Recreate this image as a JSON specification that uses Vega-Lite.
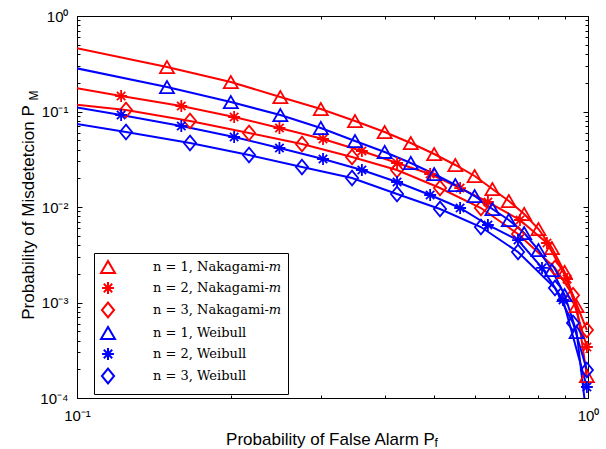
{
  "$schema": "https://vega.github.io/schema/vega-lite/v6.json",
  "width": 511,
  "height": 382,
  "autosize": {"type": "none"},
  "padding": {"left": 77, "top": 16, "right": 18, "bottom": 51},
  "background": "white",
  "config": {
    "view": {"stroke": "black", "strokeWidth": 1},
    "axis": {"grid": false, "domain": false, "tickColor": "black", "tickWidth": 1}
  },
  "data": {
    "values": [
      {"series": "n = 1, Nakagami-𝑚", "pf": 0.1, "pm": 0.459, "marker": false},
      {"series": "n = 1, Nakagami-𝑚", "pf": 0.15, "pm": 0.2924, "marker": true},
      {"series": "n = 1, Nakagami-𝑚", "pf": 0.2, "pm": 0.2036, "marker": true},
      {"series": "n = 1, Nakagami-𝑚", "pf": 0.25, "pm": 0.1418, "marker": true},
      {"series": "n = 1, Nakagami-𝑚", "pf": 0.3, "pm": 0.1062, "marker": true},
      {"series": "n = 1, Nakagami-𝑚", "pf": 0.35, "pm": 0.0795, "marker": true},
      {"series": "n = 1, Nakagami-𝑚", "pf": 0.4, "pm": 0.061, "marker": true},
      {"series": "n = 1, Nakagami-𝑚", "pf": 0.45, "pm": 0.0468, "marker": true},
      {"series": "n = 1, Nakagami-𝑚", "pf": 0.5, "pm": 0.0359, "marker": true},
      {"series": "n = 1, Nakagami-𝑚", "pf": 0.55, "pm": 0.02753, "marker": true},
      {"series": "n = 1, Nakagami-𝑚", "pf": 0.6, "pm": 0.02112, "marker": true},
      {"series": "n = 1, Nakagami-𝑚", "pf": 0.65, "pm": 0.01543, "marker": true},
      {"series": "n = 1, Nakagami-𝑚", "pf": 0.7, "pm": 0.01156, "marker": true},
      {"series": "n = 1, Nakagami-𝑚", "pf": 0.75, "pm": 0.00845, "marker": true},
      {"series": "n = 1, Nakagami-𝑚", "pf": 0.8, "pm": 0.00588, "marker": true},
      {"series": "n = 1, Nakagami-𝑚", "pf": 0.85, "pm": 0.00372, "marker": true},
      {"series": "n = 1, Nakagami-𝑚", "pf": 0.9, "pm": 0.002087, "marker": true},
      {"series": "n = 1, Nakagami-𝑚", "pf": 0.95, "pm": 0.000919, "marker": true},
      {"series": "n = 1, Nakagami-𝑚", "pf": 0.995, "pm": 0.00017, "marker": true},

      {"series": "n = 2, Nakagami-𝑚", "pf": 0.1, "pm": 0.175, "marker": false},
      {"series": "n = 2, Nakagami-𝑚", "pf": 0.122, "pm": 0.1453, "marker": true},
      {"series": "n = 2, Nakagami-𝑚", "pf": 0.16, "pm": 0.1142, "marker": true},
      {"series": "n = 2, Nakagami-𝑚", "pf": 0.203, "pm": 0.0876, "marker": true},
      {"series": "n = 2, Nakagami-𝑚", "pf": 0.249, "pm": 0.0672, "marker": true},
      {"series": "n = 2, Nakagami-𝑚", "pf": 0.303, "pm": 0.0515, "marker": true},
      {"series": "n = 2, Nakagami-𝑚", "pf": 0.361, "pm": 0.0386, "marker": true},
      {"series": "n = 2, Nakagami-𝑚", "pf": 0.423, "pm": 0.0289, "marker": true},
      {"series": "n = 2, Nakagami-𝑚", "pf": 0.491, "pm": 0.02215, "marker": true},
      {"series": "n = 2, Nakagami-𝑚", "pf": 0.562, "pm": 0.0158, "marker": true},
      {"series": "n = 2, Nakagami-𝑚", "pf": 0.637, "pm": 0.01128, "marker": true},
      {"series": "n = 2, Nakagami-𝑚", "pf": 0.736, "pm": 0.00731, "marker": true},
      {"series": "n = 2, Nakagami-𝑚", "pf": 0.831, "pm": 0.0042, "marker": true},
      {"series": "n = 2, Nakagami-𝑚", "pf": 0.91, "pm": 0.00176, "marker": true},
      {"series": "n = 2, Nakagami-𝑚", "pf": 0.995, "pm": 0.000342, "marker": true},

      {"series": "n = 3, Nakagami-𝑚", "pf": 0.1, "pm": 0.118, "marker": false},
      {"series": "n = 3, Nakagami-𝑚", "pf": 0.1247, "pm": 0.1037, "marker": true},
      {"series": "n = 3, Nakagami-𝑚", "pf": 0.1664, "pm": 0.0795, "marker": true},
      {"series": "n = 3, Nakagami-𝑚", "pf": 0.2171, "pm": 0.0596, "marker": true},
      {"series": "n = 3, Nakagami-𝑚", "pf": 0.2756, "pm": 0.0457, "marker": true},
      {"series": "n = 3, Nakagami-𝑚", "pf": 0.3453, "pm": 0.0334, "marker": true},
      {"series": "n = 3, Nakagami-𝑚", "pf": 0.4229, "pm": 0.0244, "marker": true},
      {"series": "n = 3, Nakagami-𝑚", "pf": 0.5133, "pm": 0.0158, "marker": true},
      {"series": "n = 3, Nakagami-𝑚", "pf": 0.6173, "pm": 0.00976, "marker": true},
      {"series": "n = 3, Nakagami-𝑚", "pf": 0.7295, "pm": 0.00522, "marker": true},
      {"series": "n = 3, Nakagami-𝑚", "pf": 0.8617, "pm": 0.0023, "marker": true},
      {"series": "n = 3, Nakagami-𝑚", "pf": 0.9347, "pm": 0.00119, "marker": true},
      {"series": "n = 3, Nakagami-𝑚", "pf": 0.995, "pm": 0.000515, "marker": true},

      {"series": "n = 1, Weibull", "pf": 0.1, "pm": 0.283, "marker": false},
      {"series": "n = 1, Weibull", "pf": 0.15, "pm": 0.1805, "marker": true},
      {"series": "n = 1, Weibull", "pf": 0.2, "pm": 0.1257, "marker": true},
      {"series": "n = 1, Weibull", "pf": 0.25, "pm": 0.0919, "marker": true},
      {"series": "n = 1, Weibull", "pf": 0.3, "pm": 0.0672, "marker": true},
      {"series": "n = 1, Weibull", "pf": 0.35, "pm": 0.0491, "marker": true},
      {"series": "n = 1, Weibull", "pf": 0.4, "pm": 0.0377, "marker": true},
      {"series": "n = 1, Weibull", "pf": 0.45, "pm": 0.0289, "marker": true},
      {"series": "n = 1, Weibull", "pf": 0.5, "pm": 0.02215, "marker": true},
      {"series": "n = 1, Weibull", "pf": 0.55, "pm": 0.017, "marker": true},
      {"series": "n = 1, Weibull", "pf": 0.6, "pm": 0.01303, "marker": true},
      {"series": "n = 1, Weibull", "pf": 0.65, "pm": 0.00953, "marker": true},
      {"series": "n = 1, Weibull", "pf": 0.7, "pm": 0.00731, "marker": true},
      {"series": "n = 1, Weibull", "pf": 0.75, "pm": 0.00534, "marker": true},
      {"series": "n = 1, Weibull", "pf": 0.8, "pm": 0.003545, "marker": true},
      {"series": "n = 1, Weibull", "pf": 0.85, "pm": 0.00219, "marker": true},
      {"series": "n = 1, Weibull", "pf": 0.9, "pm": 0.001198, "marker": true},
      {"series": "n = 1, Weibull", "pf": 0.95, "pm": 0.000491, "marker": true},
      {"series": "n = 1, Weibull", "pf": 0.995, "pm": 0.00006, "marker": false},

      {"series": "n = 2, Weibull", "pf": 0.1, "pm": 0.11, "marker": false},
      {"series": "n = 2, Weibull", "pf": 0.122, "pm": 0.0919, "marker": true},
      {"series": "n = 2, Weibull", "pf": 0.16, "pm": 0.0705, "marker": true},
      {"series": "n = 2, Weibull", "pf": 0.203, "pm": 0.0541, "marker": true},
      {"series": "n = 2, Weibull", "pf": 0.249, "pm": 0.0415, "marker": true},
      {"series": "n = 2, Weibull", "pf": 0.303, "pm": 0.0318, "marker": true},
      {"series": "n = 2, Weibull", "pf": 0.361, "pm": 0.0244, "marker": true},
      {"series": "n = 2, Weibull", "pf": 0.423, "pm": 0.01827, "marker": true},
      {"series": "n = 2, Weibull", "pf": 0.491, "pm": 0.01335, "marker": true},
      {"series": "n = 2, Weibull", "pf": 0.562, "pm": 0.00976, "marker": true},
      {"series": "n = 2, Weibull", "pf": 0.637, "pm": 0.00648, "marker": true},
      {"series": "n = 2, Weibull", "pf": 0.7295, "pm": 0.00451, "marker": true},
      {"series": "n = 2, Weibull", "pf": 0.8128, "pm": 0.0023, "marker": true},
      {"series": "n = 2, Weibull", "pf": 0.8934, "pm": 0.001062, "marker": true},
      {"series": "n = 2, Weibull", "pf": 0.995, "pm": 0.0001304, "marker": true},

      {"series": "n = 3, Weibull", "pf": 0.1, "pm": 0.074, "marker": false},
      {"series": "n = 3, Weibull", "pf": 0.1247, "pm": 0.061, "marker": true},
      {"series": "n = 3, Weibull", "pf": 0.1664, "pm": 0.0468, "marker": true},
      {"series": "n = 3, Weibull", "pf": 0.2171, "pm": 0.035, "marker": true},
      {"series": "n = 3, Weibull", "pf": 0.2756, "pm": 0.0262, "marker": true},
      {"series": "n = 3, Weibull", "pf": 0.3453, "pm": 0.0201, "marker": true},
      {"series": "n = 3, Weibull", "pf": 0.4229, "pm": 0.01368, "marker": true},
      {"series": "n = 3, Weibull", "pf": 0.5133, "pm": 0.00953, "marker": true},
      {"series": "n = 3, Weibull", "pf": 0.6173, "pm": 0.00617, "marker": true},
      {"series": "n = 3, Weibull", "pf": 0.7295, "pm": 0.00338, "marker": true},
      {"series": "n = 3, Weibull", "pf": 0.8617, "pm": 0.001418, "marker": true},
      {"series": "n = 3, Weibull", "pf": 0.9347, "pm": 0.00061, "marker": true},
      {"series": "n = 3, Weibull", "pf": 0.995, "pm": 0.000196, "marker": true}
    ]
  },
  "layer": [
    {
      "mark": {"type": "line", "strokeWidth": 2, "clip": true},
      "encoding": {
        "x": {
          "field": "pf", "type": "quantitative",
          "scale": {"type": "log", "domain": [0.1, 1], "nice": false},
          "axis": {
            "orient": "bottom", "values": [0.1, 1], "offset": -5, "tickSize": 5,
            "labelExpr": "datum.value == 1 ? '10⁰' : '10⁻¹'",
            "labelFont": "Liberation Sans", "labelFontSize": 15, "labelColor": "black",
            "labelPadding": 10, "labelFlush": false, "labelOverlap": false,
            "title": "Probability of False Alarm P",
            "titleFont": "Liberation Sans", "titleFontSize": 17, "titleFontWeight": "normal",
            "titleColor": "black", "titleX": 253, "titleY": 51,
            "titleBaseline": "alphabetic", "titleAlign": "center"
          }
        },
        "y": {
          "field": "pm", "type": "quantitative",
          "scale": {"type": "log", "domain": [0.0001, 1], "nice": false},
          "axis": {
            "orient": "left", "values": [0.0001, 0.001, 0.01, 0.1, 1], "offset": -5, "tickSize": 5,
            "labelExpr": "datum.value == 1 ? '10⁰' : datum.value == 0.1 ? '10⁻¹' : datum.value == 0.01 ? '10⁻²' : datum.value == 0.001 ? '10⁻³' : '10⁻⁴'",
            "labelFont": "Liberation Sans", "labelFontSize": 15, "labelColor": "black",
            "labelPadding": 9, "labelFlush": false, "labelOverlap": false,
            "title": "Probability of Misdetetcion P",
            "titleFont": "Liberation Sans", "titleFontSize": 17, "titleFontWeight": "normal",
            "titleColor": "black", "titleX": -49, "titleY": 196,
            "titleBaseline": "alphabetic", "titleAlign": "center", "titleAngle": 270
          }
        },
        "color": {
          "field": "series", "type": "nominal",
          "scale": {
            "domain": ["n = 1, Nakagami-𝑚", "n = 2, Nakagami-𝑚", "n = 3, Nakagami-𝑚", "n = 1, Weibull", "n = 2, Weibull", "n = 3, Weibull"],
            "range": ["#ff0000", "#ff0000", "#ff0000", "#0000ff", "#0000ff", "#0000ff"]
          }
        }
      }
    },
    {
      "transform": [{"filter": "datum.marker"}],
      "mark": {"type": "point", "filled": false, "strokeWidth": 1.8, "size": 196, "opacity": 1},
      "encoding": {
        "x": {
          "field": "pf", "type": "quantitative",
          "axis": {"orient": "top", "values": [0.1, 1], "offset": -5, "tickSize": 5, "labels": false, "title": null}
        },
        "y": {
          "field": "pm", "type": "quantitative",
          "axis": {"orient": "right", "values": [0.0001, 0.001, 0.01, 0.1, 1], "offset": -5, "tickSize": 5, "labels": false, "title": null}
        },
        "color": {
          "field": "series", "type": "nominal",
          "legend": {
            "orient": "none", "legendX": 17, "legendY": 237,
            "direction": "vertical", "title": null,
            "strokeColor": "black", "fillColor": "white", "padding": 6,
            "labelFont": "DejaVu Serif", "labelFontSize": 13, "labelColor": "black",
            "labelOffset": 37, "rowPadding": 0,
            "symbolSize": 196, "symbolStrokeWidth": 2
          }
        },
        "shape": {
          "field": "series", "type": "nominal",
          "scale": {
            "domain": ["n = 1, Nakagami-𝑚", "n = 2, Nakagami-𝑚", "n = 3, Nakagami-𝑚", "n = 1, Weibull", "n = 2, Weibull", "n = 3, Weibull"],
            "range": ["triangle-up", "M0,-0.85V0.85M-0.85,0H0.85M-0.6,-0.6L0.6,0.6M-0.6,0.6L0.6,-0.6", "M0,-1.05L0.87,0L0,1.05L-0.87,0Z", "triangle-up", "M0,-0.85V0.85M-0.85,0H0.85M-0.6,-0.6L0.6,0.6M-0.6,0.6L0.6,-0.6", "M0,-1.05L0.87,0L0,1.05L-0.87,0Z"]
          },
          "legend": null
        }
      }
    },
    {
      "mark": {"type": "point", "opacity": 0},
      "encoding": {
        "x": {
          "field": "pf", "type": "quantitative",
          "axis": {
            "orient": "bottom", "values": [0.2, 0.3, 0.4, 0.5, 0.6, 0.7, 0.8, 0.9], "offset": -3, "tickSize": 3, "labels": false,
            "title": "f", "titleFont": "Liberation Sans", "titleFontSize": 12, "titleFontWeight": "normal",
            "titleColor": "black", "titleX": 357, "titleY": 51,
            "titleBaseline": "alphabetic", "titleAlign": "left"
          }
        },
        "y": {
          "field": "pm", "type": "quantitative",
          "axis": {
            "orient": "left",
            "values": [0.0002, 0.0003, 0.0004, 0.0005, 0.0006, 0.0007, 0.0008, 0.0009, 0.002, 0.003, 0.004, 0.005, 0.006, 0.007, 0.008, 0.009, 0.02, 0.03, 0.04, 0.05, 0.06, 0.07, 0.08, 0.09, 0.2, 0.3, 0.4, 0.5, 0.6, 0.7, 0.8, 0.9],
            "offset": -3, "tickSize": 3, "labels": false,
            "title": "M", "titleFont": "Liberation Sans", "titleFontSize": 12, "titleFontWeight": "normal",
            "titleColor": "black", "titleX": -43, "titleY": 84, "titleAngle": 270,
            "titleBaseline": "alphabetic", "titleAlign": "left"
          }
        }
      }
    },
    {
      "mark": {"type": "point", "opacity": 0},
      "encoding": {
        "x": {
          "field": "pf", "type": "quantitative",
          "axis": {"orient": "top", "values": [0.2, 0.3, 0.4, 0.5, 0.6, 0.7, 0.8, 0.9], "offset": -3, "tickSize": 3, "labels": false, "title": null}
        },
        "y": {
          "field": "pm", "type": "quantitative",
          "axis": {
            "orient": "right",
            "values": [0.0002, 0.0003, 0.0004, 0.0005, 0.0006, 0.0007, 0.0008, 0.0009, 0.002, 0.003, 0.004, 0.005, 0.006, 0.007, 0.008, 0.009, 0.02, 0.03, 0.04, 0.05, 0.06, 0.07, 0.08, 0.09, 0.2, 0.3, 0.4, 0.5, 0.6, 0.7, 0.8, 0.9],
            "offset": -3, "tickSize": 3, "labels": false, "title": null
          }
        }
      }
    }
  ],
  "resolve": {"axis": {"x": "independent", "y": "independent"}}
}
